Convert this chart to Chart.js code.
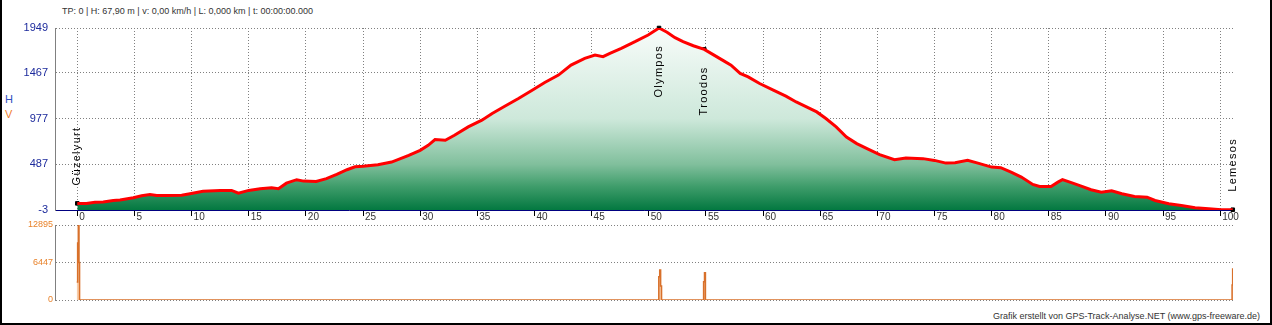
<!DOCTYPE html>
<html lang="de">
<head>
  <meta charset="UTF-8" />
  <title>Höhenprofil Güzelyurt - Lemesos</title>
  <script src="https://cdn.jsdelivr.net/npm/chart.js"></script>
  <style>
    body {
      margin: 0;
      background: #fff;
      font-family: 'Liberation Sans', Arial, sans-serif;
    }
    #page {
      position: relative;
      width: 1272px;
      height: 325px;
      overflow: hidden;
    }
    #frame {
      position: absolute;
      left: 0; top: 0;
      width: 1272px; height: 325px;
      box-sizing: border-box;
      border: 2px solid #000;
      border-top: none;
      pointer-events: none;
    }
    canvas { position: absolute; left: 0; }
    #profile { top: 0; }
    #speed { top: 215px; }
    .txt { position: absolute; white-space: nowrap; }
    #header { left: 62px; top: 6px; font-size: 9px; line-height: 11px; color: #333; }
    #footer { right: 12px; top: 311px; font-size: 9px; line-height: 11px; color: #333; }
    #lblH { left: 5px; top: 93px; font-size: 11px; line-height: 13px; color: #3050c0; }
    #lblV { left: 5px; top: 108px; font-size: 11px; line-height: 13px; color: #f08030; }
  </style>
</head>
<body>
  <div id="page">
    <div id="header" class="txt">TP: 0 | H: 67,90 m | v: 0,00 km/h | L: 0,000 km | t: 00:00:00.000</div>
    <div id="lblH" class="txt">H</div>
    <div id="lblV" class="txt">V</div>
    <canvas id="profile" width="1272" height="225"></canvas>
    <canvas id="speed" width="1272" height="95"></canvas>
    <div id="footer" class="txt">Grafik erstellt von GPS-Track-Analyse.NET (www.gps-freeware.de)</div>
    <div id="frame"></div>
  </div>

  <script>
    // distance axis (km)
    const xMin = -1.95;
    const xMax = 101.12;
    const xTicks = [0, 5, 10, 15, 20, 25, 30, 35, 40, 45, 50, 55, 60, 65, 70, 75, 80, 85, 90, 95, 100];

    // elevation (m)
    const hTicks = [-3, 487, 977, 1467, 1949];
    const trackKm = [
      0.0, 0.8, 1.55, 2.27, 3.15, 3.74, 4.9, 5.63, 6.36, 6.95, 7.82, 9.13, 9.86,
      11.0, 12.5, 13.5, 14.1, 15.0, 16.0, 17.0, 17.6, 18.3, 19.2, 19.8, 20.9,
      21.8, 22.7, 23.6, 24.3, 25.0, 26.3, 27.5, 29.0, 30.0, 30.7, 31.3, 32.2,
      33.0, 34.2, 35.4, 36.3, 37.4, 38.6, 39.8, 40.9, 42.1, 43.2, 44.4, 45.3,
      46.0, 46.6, 47.6, 48.8, 49.95, 50.9, 51.6, 52.3, 53.0, 53.9, 54.86, 55.6,
      56.6, 57.2, 58.0, 58.7, 59.7, 60.9, 62.0, 62.9, 63.8, 64.7, 65.5, 66.4,
      67.3, 68.2, 69.1, 70.2, 71.5, 72.5, 74.0, 75.0, 76.0, 76.8, 77.9, 78.8,
      80.0, 80.8, 81.7, 82.6, 83.6, 84.2, 85.2, 85.8, 86.2, 87.1, 87.9, 88.7,
      89.6, 90.5, 91.4, 92.5, 93.6, 94.3, 95.5, 96.6, 97.8, 99.0, 100.1, 101.1
    ];
    const trackH = [
      68, 66, 81, 83, 99, 105, 128, 150, 164, 153, 153, 155, 171,
      199, 207, 207, 178, 207, 225, 236, 225, 285, 322, 307, 303,
      333, 379, 429, 460, 465, 483, 511, 583, 637, 691, 752, 745,
      798, 888, 960, 1032, 1110, 1193, 1282, 1365, 1444, 1551, 1623, 1659,
      1641, 1677, 1731, 1802, 1874, 1949, 1903, 1845, 1802, 1759, 1720, 1666,
      1594, 1551, 1462, 1425, 1354, 1282, 1218, 1156, 1103, 1049, 978, 888,
      780, 709, 655, 591, 537, 554, 548, 529, 500, 505, 529, 500,
      457, 451, 404, 350, 271, 250, 250, 296, 322, 285, 250, 214,
      188, 203, 171, 142, 135, 99, 64, 45, 21, 10, 0, 0
    ];

    // waypoints
    const wpNames = ['Güzelyurt', 'Olympos', 'Troodos', 'Lemesos'];
    const wpKm = [0.0, 50.9, 54.86, 101.1];
    const wpH = [68, 1949, 1720, 0];

    // speed (km/h)
    const vTicks = [0, 6447, 12895];
    const speedKm = [-0.05, 0.03, 0.09, 0.15, 0.2, 50.88, 50.96, 51.04, 51.12, 54.8, 54.88, 54.96, 101.04, 101.09, 101.12];
    const speedV = [3100, 9800, 12895, 6447, 0, 4000, 5158, 2400, 0, 3150, 4700, 0, 2580, 5330, 5330];

    const tickFont = { family: "'Liberation Sans', Arial, sans-serif", size: 11 };
    const plain = v => String(v);

    function profileFill(context) {
      const { ctx, chartArea } = context.chart;
      if (!chartArea) return 'rgba(0,120,64,0.5)';
      const g = ctx.createLinearGradient(0, chartArea.top, 0, chartArea.bottom);
      g.addColorStop(0, '#f8fcfa');
      g.addColorStop(0.5, '#cde8da');
      g.addColorStop(0.75, '#80bf9c');
      g.addColorStop(0.87, '#3f9d6b');
      g.addColorStop(1, '#037840');
      return g;
    }

    // rotated waypoint names
    const waypointLabels = {
      id: 'waypointLabels',
      afterDatasetsDraw(chart) {
        const { ctx, chartArea, scales } = chart;
        ctx.save();
        ctx.font = "11px 'Liberation Sans', Arial, sans-serif";
        ctx.letterSpacing = '1.3px';
        ctx.fillStyle = '#000';
        ctx.textBaseline = 'middle';
        wpNames.forEach((name, i) => {
          const px = scales.x.getPixelForValue(wpKm[i]);
          const py = scales.y.getPixelForValue(wpH[i]);
          const w = ctx.measureText(name).width;
          ctx.save();
          ctx.translate(px, py);
          ctx.rotate(-Math.PI / 2);
          if (py - 18 - w > chartArea.top) {
            ctx.textAlign = 'left';
            ctx.fillText(name, 18, 0);
          } else {
            ctx.textAlign = 'right';
            ctx.fillText(name, -17, 0);
          }
          ctx.restore();
        });
        ctx.restore();
      }
    };

    new Chart(document.getElementById('profile'), {
      type: 'line',
      data: {
        datasets: [
          {
            data: trackKm.map((k, i) => ({ x: k, y: trackH[i] })),
            borderColor: '#ff0000',
            borderWidth: 3,
            pointRadius: 0,
            fill: 'start',
            backgroundColor: profileFill,
            tension: 0
          },
          {
            type: 'scatter',
            data: wpKm.map((k, i) => ({ x: k, y: wpH[i] })),
            pointStyle: 'rect',
            pointRadius: 2.5,
            backgroundColor: '#000',
            borderColor: '#000',
            clip: false
          }
        ]
      },
      options: {
        responsive: false,
        animation: false,
        layout: { padding: { top: 28, right: 39, left: 0, bottom: 0 } },
        plugins: { legend: { display: false }, tooltip: { enabled: false } },
        scales: {
          x: {
            type: 'linear',
            min: xMin,
            max: xMax,
            afterBuildTicks: s => { s.ticks = xTicks.map(v => ({ value: v })); },
            afterFit: s => { s.height = 15; },
            grid: { color: '#808080', tickColor: '#000', tickLength: 6, tickBorderDash: [] },
            border: { color: '#000080', dash: [1, 2] },
            ticks: {
              align: 'start', labelOffset: 2, padding: -5, maxRotation: 0, autoSkip: false,
              color: '#333', font: { family: tickFont.family, size: 10 }, callback: plain
            }
          },
          y: {
            min: -3,
            max: 1949,
            afterBuildTicks: s => { s.ticks = hTicks.map(v => ({ value: v })); },
            afterFit: s => { s.width = 55; },
            grid: { color: '#808080', drawTicks: false },
            border: { color: '#808080', dash: [1, 2] },
            ticks: { padding: 7, color: '#1c2a9c', font: tickFont, callback: plain }
          }
        }
      },
      plugins: [waypointLabels]
    });

    new Chart(document.getElementById('speed'), {
      type: 'line',
      data: {
        datasets: [{
          data: speedKm.map((k, i) => ({ x: k, y: speedV[i] })),
          borderColor: '#d8702a',
          borderWidth: 1.5,
          pointRadius: 0,
          stepped: 'before',
          fill: 'origin',
          backgroundColor: 'rgba(244, 170, 110, 0.6)'
        }]
      },
      options: {
        responsive: false,
        animation: false,
        layout: { padding: { top: 10, right: 39, left: 0, bottom: 10 } },
        plugins: { legend: { display: false }, tooltip: { enabled: false } },
        scales: {
          x: { type: 'linear', min: xMin, max: xMax, display: false },
          y: {
            min: 0,
            max: 12895,
            afterBuildTicks: s => { s.ticks = vTicks.map(v => ({ value: v })); },
            afterFit: s => { s.width = 55; },
            grid: { color: '#808080', drawTicks: false },
            border: { color: '#808080', dash: [1, 2] },
            ticks: { padding: 2, color: '#e8822a', font: { family: tickFont.family, size: 9 }, callback: plain }
          }
        }
      }
    });
  </script>
</body>
</html>
